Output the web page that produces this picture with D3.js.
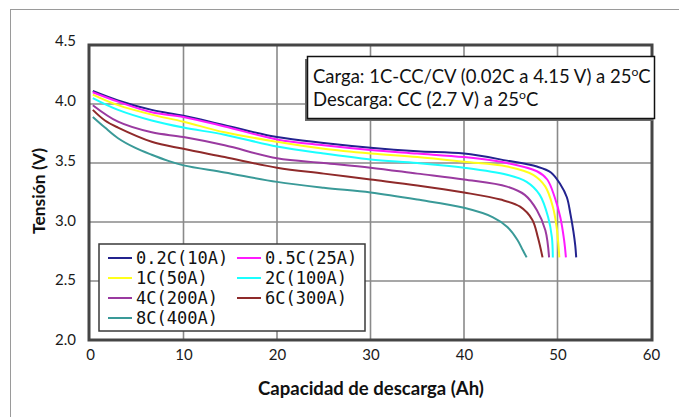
<!DOCTYPE html>
<html>
<head>
<meta charset="utf-8">
<script src="https://cdn.jsdelivr.net/npm/d3@7"></script>
<style>
  html, body { margin: 0; padding: 0; background: #fff; }
  svg { display: block; }
</style>
</head>
<body>
<svg id="chart" width="679" height="417"></svg>
<script>
// Discharge curves, [capacity (Ah), voltage (V)]
const rate02C = [[0.3,4.11],[3,4.03],[6.6,3.95],[10,3.90],[14.4,3.82],[20,3.72],[25,3.67],[30,3.63],[35,3.60],[40,3.58],[44.6,3.52],[47.8,3.47],[49.3,3.42],[50.3,3.32],[51.0,3.21],[51.4,3.06],[51.7,2.92],[51.9,2.80],[52.0,2.70]];
const rate05C = [[0.3,4.10],[3,4.02],[6.6,3.93],[10,3.89],[14.4,3.81],[20,3.70],[25,3.65],[30,3.61],[35,3.58],[40,3.55],[44.6,3.50],[47.8,3.43],[48.9,3.36],[49.7,3.21],[50.3,3.04],[50.7,2.85],[50.9,2.70]];
const rate1C  = [[0.3,4.08],[3,3.99],[6.6,3.91],[10,3.85],[14.4,3.76],[20,3.68],[25,3.62],[30,3.58],[35,3.55],[40,3.51],[44.6,3.47],[47.4,3.40],[48.7,3.30],[49.5,3.13],[49.9,2.96],[50.2,2.70]];
const rate2C  = [[0.3,4.05],[3,3.95],[6.6,3.86],[10,3.80],[14.4,3.74],[20,3.64],[25,3.58],[30,3.53],[35,3.50],[40,3.46],[44.6,3.40],[46.7,3.34],[48.1,3.23],[49.0,3.04],[49.4,2.87],[49.5,2.70]];
const rate4C  = [[0.3,3.99],[3,3.85],[6.6,3.76],[10,3.72],[14.4,3.65],[20,3.54],[25,3.50],[30,3.46],[35,3.41],[40,3.36],[44.6,3.30],[46.5,3.23],[47.8,3.10],[48.7,2.93],[49.1,2.70]];
const rate6C  = [[0.3,3.95],[1.6,3.86],[3,3.80],[6.6,3.68],[10,3.62],[14.4,3.55],[20,3.46],[25,3.41],[30,3.36],[35,3.31],[40,3.25],[43.9,3.19],[46.0,3.13],[47.3,3.02],[47.9,2.87],[48.4,2.70]];
const rate8C  = [[0.3,3.89],[1.6,3.80],[3,3.71],[4.8,3.63],[6.6,3.57],[8.3,3.52],[10,3.48],[14.4,3.42],[20,3.34],[25,3.29],[30,3.25],[35,3.19],[40,3.12],[43.1,3.04],[44.6,2.96],[45.7,2.85],[46.3,2.76],[46.7,2.70]];

const seriesNames = ["0.2C(10A)","0.5C(25A)","1C(50A)","2C(100A)","4C(200A)","6C(300A)","8C(400A)"];
const seriesData  = [rate02C, rate05C, rate1C, rate2C, rate4C, rate6C, rate8C];
const seriesColors = ["#23238f","#ff1aff","#ffff1a","#1affff","#9a3aa0","#8f2a2a","#3a9a98"];

const xTicks = [0,10,20,30,40,50,60];
const yTicks = [2.0,2.5,3.0,3.5,4.0,4.5];
const xTitle = "Capacidad de descarga (Ah)";
const yTitle = "Tensión (V)";
const noteLine1 = ["Carga: 1C-CC/CV (0.02C a 4.15 V) a 25","o","C"];
const noteLine2 = ["Descarga: CC (2.7 V) a 25","o","C"];

const svg = d3.select("#chart");
const W = 679, H = 417;
const plot = {left: 90, right: 651, top: 45, bottom: 340};

const x = d3.scaleLinear().domain([0,60]).range([plot.left, plot.right]);
const y = d3.scaleLinear().domain([2.0,4.5]).range([plot.bottom, plot.top]);

const font = "Lato, 'Open Sans', sans-serif";

// figure border (left and top edges)
svg.append("line").attr("x1",10.5).attr("x2",10.5).attr("y1",9.5).attr("y2",H)
  .attr("stroke","#9a9a9a").attr("stroke-width",1);
svg.append("line").attr("x1",10).attr("x2",W).attr("y1",9.5).attr("y2",9.5)
  .attr("stroke","#9a9a9a").attr("stroke-width",1);

// grid
const grid = svg.append("g");
grid.selectAll("line.v").data(xTicks.slice(1,-1)).join("line")
  .attr("x1",d=>x(d)).attr("x2",d=>x(d)).attr("y1",plot.top).attr("y2",plot.bottom)
  .attr("stroke","#8a8a8a").attr("stroke-width",1.6);
grid.selectAll("line.h").data(yTicks.slice(1,-1)).join("line")
  .attr("x1",plot.left).attr("x2",plot.right).attr("y1",d=>y(d)).attr("y2",d=>y(d))
  .attr("stroke","#8a8a8a").attr("stroke-width",1.6);

// tick labels via d3 axes (domain and tick marks hidden)
const xAxis = svg.append("g").attr("transform",`translate(0,${plot.bottom})`)
  .call(d3.axisBottom(x).tickValues(xTicks).tickFormat(d3.format("d")).tickSize(0).tickPadding(9));
const yAxis = svg.append("g").attr("transform",`translate(${plot.left},0)`)
  .call(d3.axisLeft(y).tickValues(yTicks).tickFormat(d3.format(".1f")).tickSize(0).tickPadding(14));
[xAxis, yAxis].forEach(a => {
  a.select(".domain").remove();
  a.selectAll("text").attr("font-family",font).attr("font-size",15).attr("fill","#1a1a1a");
});
yAxis.selectAll(".tick text").attr("dy", function(d){ return (0.32 - (d-2)*0.12) + "em"; });

// curves
const line = d3.line().x(d=>x(d[0])).y(d=>y(d[1])).curve(d3.curveCatmullRom.alpha(0.5));
svg.append("g").selectAll("path").data(seriesData).join("path")
  .attr("d", line).attr("fill","none")
  .attr("stroke",(d,i)=>seriesColors[i]).attr("stroke-width",2)
  .attr("stroke-linejoin","round");

// plot frame
svg.append("rect").attr("x",plot.left-1).attr("y",plot.top).attr("width",plot.right-plot.left+2)
  .attr("height",plot.bottom-plot.top).attr("fill","none").attr("stroke","#454545").attr("stroke-width",3);

// legend
const lg = svg.append("g");
lg.append("rect").attr("x",99).attr("y",244).attr("width",266).attr("height",87)
  .attr("fill","#fff").attr("stroke","#3a3a3a").attr("stroke-width",1.5);
seriesNames.forEach((name,i) => {
  const col = i % 2, row = Math.floor(i/2);
  const lx = col === 0 ? 108 : 237;
  const ly = 258 + row*20;
  lg.append("line").attr("x1",lx).attr("x2",lx+24).attr("y1",ly).attr("y2",ly)
    .attr("stroke",seriesColors[i]).attr("stroke-width",2);
  lg.append("text").attr("x",lx+28).attr("y",ly).attr("dy","0.37em")
    .attr("font-family","'DejaVu Sans Mono', monospace").attr("font-size",17)
    .attr("fill","#111").text(name);
});

// conditions note
const note = svg.append("g");
note.append("rect").attr("x",305).attr("y",59).attr("width",348).attr("height",62).attr("fill","#6a6a6a");
note.append("rect").attr("x",307.5).attr("y",56.5).attr("width",347).attr("height",62)
  .attr("fill","#fff").attr("stroke","#111").attr("stroke-width",1.5);
function noteText(parts, yy) {
  const t = note.append("text").attr("x",313).attr("y",yy)
    .attr("font-family",font).attr("font-size",16.5).attr("fill","#111");
  t.append("tspan").text(parts[0]);
  t.append("tspan").attr("dy",-7).attr("font-size",11).text(parts[1]);
  t.append("tspan").attr("dy",7).text(parts[2]);
  return t;
}
const n1 = noteText(noteLine1, 83);
const n2 = noteText(noteLine2, 106);
// fit first line to the box width, apply same size to second
const w1 = n1.node().getComputedTextLength();
const s = 16.5 * 338 / w1;
[n1,n2].forEach(t => t.attr("font-size", s).selectAll("tspan").each(function(d,i){
  if (i===1) d3.select(this).attr("font-size", s*0.66);
}));

// axis titles
function fitText(sel, target, base) {
  const w = sel.node().getComputedTextLength();
  sel.attr("font-size", base * target / w);
}
const xt = svg.append("text").attr("x",371).attr("y",395).attr("text-anchor","middle")
  .attr("font-family",font).attr("font-weight","bold").attr("font-size",15).attr("fill","#111").text(xTitle);
fitText(xt, 226, 15);
const yt = svg.append("text").attr("transform","translate(45,191) rotate(-90)").attr("text-anchor","middle")
  .attr("font-family",font).attr("font-weight","bold").attr("font-size",14).attr("fill","#111").text(yTitle);
fitText(yt, 86, 14);
</script>
</body>
</html>
